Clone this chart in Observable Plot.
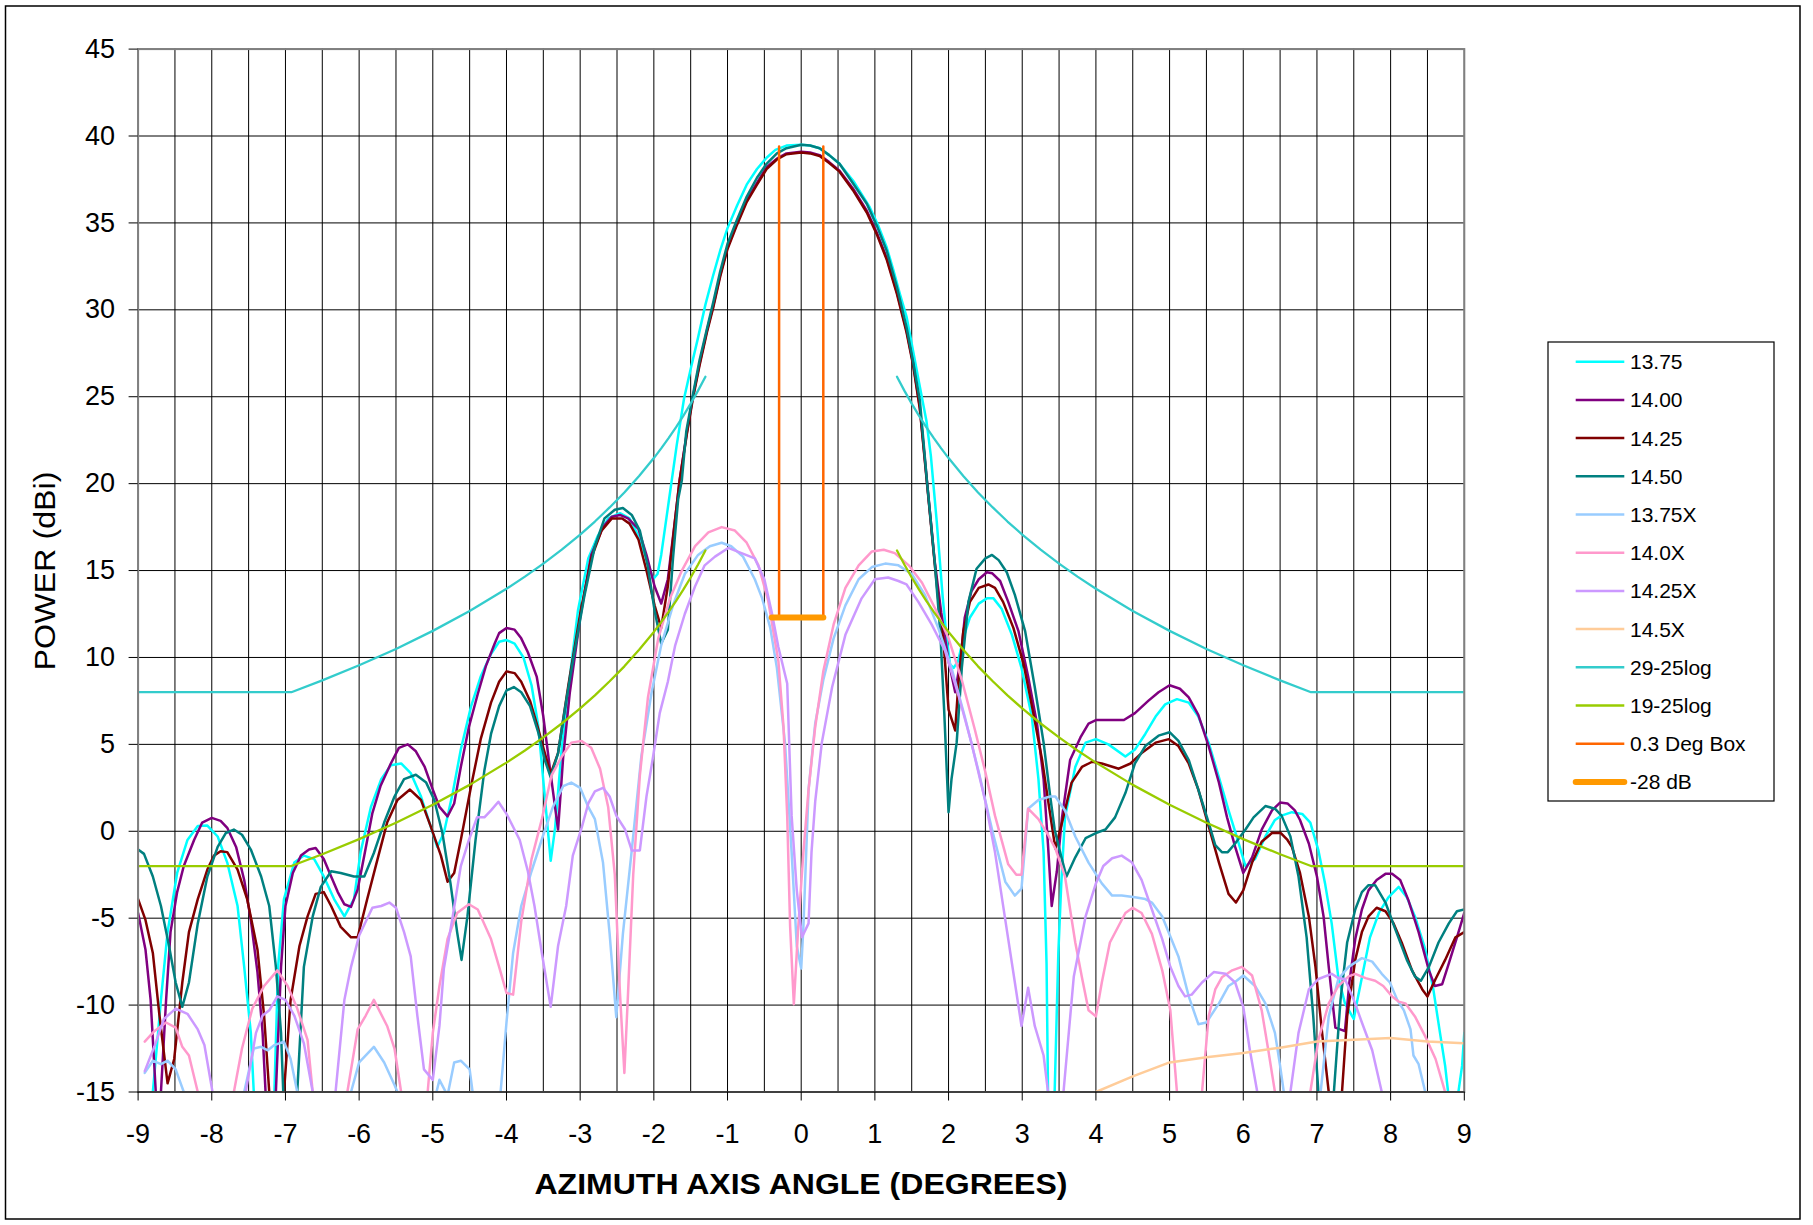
<!DOCTYPE html>
<html>
<head>
<meta charset="utf-8">
<script src="https://cdn.jsdelivr.net/npm/d3@7"></script>
<script src="https://cdn.jsdelivr.net/npm/@observablehq/plot@0.6"></script>
<style>
  html, body { margin: 0; padding: 0; background: #fff; }
  #chart { position: relative; width: 1813px; height: 1225px; }
</style>
</head>
<body>
<div id="chart"></div>
<script>
// ---------- data (angle in degrees, power in dBi) ----------
const s1375 = [[-9,-22],[-8.85,-16],[-8.8,-15],[-8.69,-9.7],[-8.6,-5.8],[-8.47,-2.4],[-8.33,-0.5],[-8.19,0.3],[-8.06,0.33],[-7.92,-0.3],[-7.79,-1.8],[-7.65,-4.3],[-7.56,-7.8],[-7.47,-11.6],[-7.43,-15],[-7.3,-22],[-7.15,-15],[-7.1,-7.8],[-7.02,-3.9],[-6.88,-1.8],[-6.75,-1.4],[-6.61,-1.6],[-6.48,-2.6],[-6.34,-3.9],[-6.2,-4.9],[-6.07,-3.9],[-5.98,-1.2],[-5.84,1.4],[-5.7,3.0],[-5.57,3.8],[-5.43,3.9],[-5.3,3.35],[-5.16,2.0],[-5.03,0.3],[-4.94,-0.9],[-4.85,-0.1],[-4.73,2.2],[-4.62,4.7],[-4.48,7.2],[-4.35,8.9],[-4.21,10.2],[-4.1,10.9],[-4.0,11.0],[-3.89,10.8],[-3.77,10.0],[-3.66,8.4],[-3.57,6.1],[-3.48,2.0],[-3.4,-1.7],[-3.34,0.2],[-3.25,4.8],[-3.16,8.2],[-3.03,12.7],[-2.89,15.7],[-2.76,17.0],[-2.62,18.0],[-2.46,18.3],[-2.33,18.0],[-2.21,17.0],[-2.1,15.7],[-2.01,14.5],[-1.95,14.8],[-1.9,15.9],[-1.8,18.9],[-1.69,22.2],[-1.59,24.9],[-1.5,26.6],[-1.4,28.4],[-1.3,30.3],[-1.2,31.9],[-1.1,33.4],[-1.0,34.7],[-0.87,36.0],[-0.74,37.2],[-0.6,38.1],[-0.47,38.75],[-0.35,39.2],[-0.2,39.45],[0,39.5],[0.12,39.45],[0.25,39.3],[0.38,38.9],[0.52,38.4],[0.71,37.4],[0.93,35.9],[1.05,34.8],[1.16,33.6],[1.25,32.3],[1.34,30.9],[1.43,29.6],[1.52,27.6],[1.6,25.8],[1.7,23.6],[1.76,21.6],[1.84,17.8],[1.92,13.5],[1.97,11.3],[2.02,9.6],[2.07,9.4],[2.13,9.8],[2.2,11.1],[2.29,12.3],[2.41,13.1],[2.52,13.4],[2.61,13.4],[2.72,12.8],[2.86,11.3],[2.99,9.4],[3.13,6.6],[3.22,3.0],[3.29,-1.2],[3.33,-7.6],[3.35,-15],[3.4,-22],[3.44,-15],[3.49,-7],[3.53,-3],[3.58,0.8],[3.72,3.7],[3.86,5.1],[4.0,5.3],[4.17,5.0],[4.4,4.3],[4.53,4.7],[4.67,5.6],[4.81,6.6],[4.94,7.3],[5.1,7.6],[5.26,7.4],[5.39,6.6],[5.53,5.1],[5.67,3.1],[5.8,1.2],[5.91,-0.3],[6.03,-2.0],[6.16,-1.6],[6.3,-0.3],[6.43,0.65],[6.52,0.9],[6.66,1.1],[6.8,1.0],[6.91,0.5],[7.02,-1.1],[7.11,-3.0],[7.2,-5.3],[7.29,-8.4],[7.38,-9.9],[7.5,-10.8],[7.54,-9.9],[7.63,-8.0],[7.72,-6.1],[7.84,-4.7],[7.97,-3.8],[8.11,-3.2],[8.22,-3.8],[8.33,-4.9],[8.47,-6.8],[8.58,-9.1],[8.67,-11.6],[8.74,-13.5],[8.78,-15],[8.85,-20],[8.92,-15],[8.97,-13.5],[9.0,-11.6]];

const s1400 = [[-9,-4.7],[-8.9,-6.8],[-8.83,-9.7],[-8.76,-15],[-8.72,-20],[-8.69,-15],[-8.62,-9.7],[-8.56,-5.8],[-8.47,-3.5],[-8.38,-2.0],[-8.24,-0.5],[-8.13,0.5],[-8.0,0.77],[-7.88,0.6],[-7.79,0.2],[-7.67,-0.9],[-7.56,-2.8],[-7.47,-5.1],[-7.38,-8.1],[-7.31,-11.6],[-7.27,-15],[-7.2,-20],[-7.13,-15],[-7.06,-7.8],[-7.0,-4.3],[-6.9,-2.4],[-6.79,-1.4],[-6.68,-1.05],[-6.59,-0.96],[-6.48,-1.6],[-6.38,-2.6],[-6.29,-3.5],[-6.2,-4.2],[-6.11,-4.35],[-6.02,-3.35],[-5.93,-1.4],[-5.82,1.05],[-5.71,2.6],[-5.57,3.9],[-5.46,4.8],[-5.34,5.0],[-5.23,4.6],[-5.11,3.7],[-5.0,2.4],[-4.91,1.4],[-4.8,0.86],[-4.71,1.6],[-4.62,3.7],[-4.51,6.0],[-4.39,7.9],[-4.28,9.5],[-4.16,10.8],[-4.1,11.4],[-4.0,11.7],[-3.89,11.6],[-3.8,11.1],[-3.71,10.3],[-3.59,8.9],[-3.5,6.6],[-3.41,3.6],[-3.3,0.1],[-3.23,4.3],[-3.14,8.0],[-3.0,12.3],[-2.85,15.9],[-2.69,17.5],[-2.57,18.1],[-2.46,18.2],[-2.35,18.0],[-2.21,17.4],[-2.1,15.9],[-1.99,14.1],[-1.9,13.1],[-1.81,14.5],[-1.71,18.0],[-1.65,20.2],[-1.55,23.0],[-1.47,25.0],[-1.38,26.9],[-1.28,28.8],[-1.19,30.3],[-1.1,32.0],[-1.0,33.6],[-0.87,35.0],[-0.74,36.3],[-0.6,37.3],[-0.47,38.2],[-0.33,38.7],[-0.2,39.0],[0,39.1],[0.12,39.05],[0.25,38.9],[0.38,38.5],[0.52,38.0],[0.7,37.0],[0.89,35.7],[1.03,34.4],[1.16,33.0],[1.3,31.0],[1.43,28.8],[1.52,26.9],[1.61,24.4],[1.71,20.0],[1.81,15.6],[1.9,12.6],[2.0,9.8],[2.09,8.0],[2.16,9.8],[2.22,12.3],[2.31,13.8],[2.41,14.5],[2.52,14.9],[2.59,14.85],[2.7,14.4],[2.81,13.2],[2.95,11.5],[3.08,8.9],[3.2,6.2],[3.29,3.0],[3.35,-0.8],[3.4,-4.3],[3.47,-2.3],[3.54,0.8],[3.65,4.1],[3.79,5.4],[3.9,6.2],[4.0,6.4],[4.17,6.4],[4.38,6.4],[4.53,6.8],[4.71,7.5],[4.85,8.0],[5.0,8.4],[5.14,8.2],[5.26,7.7],[5.39,6.7],[5.53,4.9],[5.67,2.8],[5.78,0.8],[5.89,-0.9],[6.0,-2.4],[6.12,-1.5],[6.25,0.1],[6.39,1.2],[6.5,1.65],[6.6,1.6],[6.7,1.2],[6.77,0.65],[6.89,-0.7],[7.0,-2.6],[7.09,-4.9],[7.16,-7.8],[7.25,-11.3],[7.38,-11.5],[7.44,-8.7],[7.52,-6.2],[7.61,-4.5],[7.7,-3.4],[7.81,-2.8],[7.93,-2.45],[8.02,-2.45],[8.13,-2.8],[8.24,-3.95],[8.38,-5.8],[8.52,-8.0],[8.6,-8.9],[8.7,-8.8],[8.79,-7.6],[8.9,-6.1],[9.0,-4.7]];

const s1425 = [[-9,-3.9],[-8.9,-5.1],[-8.8,-7.0],[-8.71,-10.6],[-8.6,-14.5],[-8.51,-13.1],[-8.4,-8.7],[-8.31,-5.8],[-8.19,-3.9],[-8.06,-2.2],[-7.97,-1.4],[-7.88,-1.15],[-7.79,-1.2],[-7.65,-2.2],[-7.52,-3.9],[-7.38,-6.8],[-7.29,-10.6],[-7.22,-15],[-7.12,-20],[-7.02,-15],[-6.93,-9.7],[-6.81,-6.6],[-6.7,-4.9],[-6.59,-3.6],[-6.48,-3.5],[-6.38,-4.3],[-6.25,-5.5],[-6.11,-6.1],[-6.02,-6.1],[-5.89,-3.9],[-5.75,-1.6],[-5.62,0.5],[-5.48,1.8],[-5.31,2.4],[-5.16,1.8],[-5.03,0.3],[-4.89,-1.4],[-4.8,-2.9],[-4.71,-2.4],[-4.62,-0.5],[-4.48,2.6],[-4.35,5.3],[-4.21,7.4],[-4.1,8.6],[-4.0,9.2],[-3.89,9.1],[-3.8,8.6],[-3.68,7.5],[-3.57,5.9],[-3.5,4.8],[-3.4,3.3],[-3.3,4.5],[-3.16,8.4],[-3.0,12.5],[-2.85,15.7],[-2.71,17.3],[-2.57,18.0],[-2.43,18.0],[-2.33,17.7],[-2.21,16.8],[-2.1,15.0],[-1.99,13.0],[-1.9,11.7],[-1.81,14.1],[-1.71,18.0],[-1.65,20.2],[-1.55,22.9],[-1.47,24.9],[-1.38,26.8],[-1.28,28.7],[-1.19,30.2],[-1.1,31.9],[-1.0,33.5],[-0.87,34.9],[-0.74,36.2],[-0.6,37.2],[-0.47,38.1],[-0.33,38.65],[-0.2,38.95],[0,39.05],[0.12,39.0],[0.25,38.85],[0.38,38.45],[0.52,37.95],[0.7,36.9],[0.89,35.6],[1.03,34.3],[1.16,32.9],[1.3,30.9],[1.43,28.7],[1.52,26.8],[1.61,24.3],[1.71,19.9],[1.81,15.5],[1.88,12.5],[1.93,11.0],[2.0,7.0],[2.09,5.8],[2.13,8.3],[2.2,11.5],[2.29,13.2],[2.41,14.0],[2.54,14.2],[2.63,14.0],[2.74,13.2],[2.88,11.7],[3.02,9.6],[3.15,6.8],[3.27,4.1],[3.35,1.8],[3.45,-1.0],[3.54,0.5],[3.67,2.8],[3.81,3.7],[3.95,4.0],[4.08,3.9],[4.31,3.6],[4.47,3.9],[4.62,4.5],[4.81,5.1],[4.99,5.3],[5.12,4.9],[5.26,3.9],[5.39,2.4],[5.53,0.3],[5.67,-1.8],[5.8,-3.6],[5.9,-4.1],[6.0,-3.4],[6.12,-1.8],[6.25,-0.6],[6.39,-0.1],[6.51,-0.1],[6.6,-0.5],[6.66,-0.9],[6.77,-2.4],[6.89,-4.9],[6.98,-7.8],[7.07,-11.6],[7.16,-15],[7.25,-20],[7.34,-15],[7.41,-10.65],[7.52,-7.4],[7.61,-5.8],[7.7,-4.9],[7.81,-4.4],[7.93,-4.6],[8.04,-5.3],[8.15,-6.4],[8.29,-8.0],[8.43,-9.1],[8.5,-9.5],[8.61,-8.5],[8.74,-7.4],[8.88,-6.1],[9.0,-5.8]];

const s1450 = [[-9,-1.05],[-8.92,-1.3],[-8.8,-2.6],[-8.69,-4.3],[-8.58,-6.6],[-8.49,-8.7],[-8.4,-10.1],[-8.31,-8.7],[-8.19,-5.3],[-8.06,-2.6],[-7.92,-0.9],[-7.81,-0.1],[-7.7,0.1],[-7.59,-0.2],[-7.47,-1.05],[-7.33,-2.6],[-7.22,-4.3],[-7.13,-7.8],[-7.06,-11.6],[-7.03,-15],[-6.94,-20],[-6.84,-15],[-6.75,-7.8],[-6.63,-4.9],[-6.52,-3.2],[-6.38,-2.3],[-6.25,-2.4],[-6.07,-2.6],[-5.93,-2.6],[-5.8,-1.25],[-5.66,0.5],[-5.52,2.0],[-5.39,3.0],[-5.23,3.25],[-5.09,2.8],[-4.98,1.8],[-4.87,-0.1],[-4.76,-3.0],[-4.67,-5.8],[-4.61,-7.4],[-4.53,-4.9],[-4.42,-0.5],[-4.3,3.5],[-4.21,5.6],[-4.1,7.2],[-4.0,8.1],[-3.9,8.3],[-3.8,8.0],[-3.68,7.2],[-3.57,5.7],[-3.48,4.1],[-3.4,3.1],[-3.3,4.5],[-3.19,7.5],[-3.07,10.5],[-2.94,13.6],[-2.8,16.4],[-2.67,18.0],[-2.53,18.5],[-2.42,18.6],[-2.3,18.2],[-2.19,17.3],[-2.08,15.2],[-1.99,12.7],[-1.9,10.8],[-1.81,11.6],[-1.74,15.7],[-1.67,19.1],[-1.62,20.2],[-1.56,23.0],[-1.47,25.1],[-1.38,27.1],[-1.28,28.9],[-1.19,30.5],[-1.1,32.2],[-1.0,33.8],[-0.87,35.2],[-0.74,36.5],[-0.6,37.6],[-0.47,38.4],[-0.33,39.0],[-0.2,39.3],[0,39.5],[0.12,39.45],[0.25,39.3],[0.38,38.9],[0.52,38.4],[0.7,37.3],[0.89,36.1],[1.03,34.8],[1.16,33.4],[1.3,31.3],[1.43,29.0],[1.52,27.0],[1.61,24.8],[1.71,20.0],[1.81,15.6],[1.89,11.3],[1.94,7.0],[2.0,1.1],[2.04,3.0],[2.11,5.1],[2.18,9.4],[2.27,13.2],[2.38,15.1],[2.5,15.7],[2.59,15.9],[2.68,15.6],[2.79,14.9],[2.9,13.6],[3.04,11.5],[3.17,8.3],[3.29,5.1],[3.38,2.0],[3.44,0.1],[3.52,-1.3],[3.6,-2.6],[3.72,-1.5],[3.86,-0.4],[4.0,-0.1],[4.13,0.1],[4.26,0.8],[4.4,2.2],[4.53,3.9],[4.67,4.9],[4.85,5.5],[5.0,5.7],[5.12,5.2],[5.26,4.1],[5.39,2.4],[5.53,0.5],[5.62,-0.8],[5.71,-1.2],[5.79,-1.2],[5.89,-0.7],[6.03,0.1],[6.14,0.8],[6.3,1.45],[6.43,1.3],[6.52,0.9],[6.64,-0.3],[6.75,-2.6],[6.86,-6.1],[6.95,-10.65],[7.02,-15],[7.12,-20],[7.23,-15],[7.32,-9.7],[7.41,-6.4],[7.52,-4.5],[7.61,-3.5],[7.7,-3.1],[7.79,-3.1],[7.93,-4.1],[8.06,-5.6],[8.22,-7.4],[8.33,-8.35],[8.41,-8.6],[8.52,-7.8],[8.65,-6.4],[8.79,-5.3],[8.9,-4.6],[9.0,-4.5]];

const s1375X = [[-8.91,-13.9],[-8.8,-13.2],[-8.69,-13.4],[-8.6,-13.2],[-8.49,-13.7],[-8.38,-15],[-8.2,-20],[-7.7,-20],[-7.56,-15],[-7.43,-12.5],[-7.33,-12.4],[-7.24,-12.6],[-7.15,-12.3],[-7.02,-12.1],[-6.93,-13.1],[-6.84,-15],[-6.5,-20],[-6.11,-15],[-6.0,-13.3],[-5.8,-12.4],[-5.66,-13.3],[-5.52,-14.6],[-5.48,-15],[-5.2,-20],[-4.95,-15],[-4.91,-14.3],[-4.8,-15.2],[-4.71,-13.3],[-4.62,-13.2],[-4.5,-13.7],[-4.46,-15],[-4.3,-20],[-4.08,-15],[-4.0,-11],[-3.91,-7.0],[-3.8,-4.3],[-3.66,-2.3],[-3.5,-0.2],[-3.37,1.4],[-3.23,2.6],[-3.12,2.8],[-3.0,2.5],[-2.89,1.4],[-2.8,0.7],[-2.69,-1.8],[-2.6,-5.9],[-2.51,-10.7],[-2.42,-5.9],[-2.3,-1.1],[-2.17,4.3],[-2.03,8.0],[-1.9,10.7],[-1.74,13.0],[-1.58,14.8],[-1.4,15.9],[-1.24,16.4],[-1.08,16.6],[-0.95,16.4],[-0.79,15.8],[-0.63,14.5],[-0.53,13.4],[-0.42,11.7],[-0.33,9.4],[-0.22,5.1],[-0.13,-1.2],[-0.06,-6.6],[0,-7.9],[0.03,-5.5],[0.1,2.4],[0.19,6.2],[0.3,8.7],[0.44,11.1],[0.6,13.0],[0.78,14.5],[0.96,15.2],[1.14,15.4],[1.32,15.3],[1.5,14.8],[1.68,13.6],[1.86,11.7],[2.04,9.4],[2.22,6.6],[2.41,3.4],[2.59,0.1],[2.77,-2.9],[2.9,-3.7],[2.99,-3.3],[3.08,1.3],[3.22,1.8],[3.38,2.0],[3.45,2.0],[3.58,1.2],[3.72,-0.3],[3.9,-1.8],[4.08,-3.0],[4.22,-3.7],[4.35,-3.7],[4.53,-3.8],[4.67,-3.9],[4.76,-4.1],[4.9,-4.9],[5.01,-6.05],[5.12,-7.2],[5.26,-9.5],[5.39,-11.1],[5.5,-11.0],[5.67,-9.9],[5.8,-8.9],[5.91,-8.6],[6.0,-8.3],[6.16,-8.9],[6.3,-9.9],[6.43,-11.6],[6.5,-13.5],[6.55,-15],[6.8,-20],[7.05,-15],[7.16,-10.65],[7.29,-8.5],[7.43,-7.8],[7.61,-7.3],[7.75,-7.5],[7.88,-8.2],[7.99,-8.7],[8.09,-9.7],[8.18,-10.3],[8.27,-11.4],[8.31,-12.9],[8.38,-13.4],[8.47,-15],[8.7,-20],[9,-20]];

const s1400X = [[-8.91,-12.1],[-8.78,-11.5],[-8.62,-11.0],[-8.49,-11.3],[-8.4,-12.4],[-8.31,-12.9],[-8.19,-15],[-8.0,-20],[-7.85,-20],[-7.7,-15],[-7.59,-12.5],[-7.45,-10.2],[-7.29,-8.9],[-7.11,-8.0],[-6.97,-8.9],[-6.84,-10.2],[-6.7,-12.0],[-6.63,-15],[-6.4,-20],[-6.16,-15],[-6.02,-11.4],[-5.91,-10.6],[-5.8,-9.7],[-5.62,-11.2],[-5.52,-12.5],[-5.43,-15],[-5.25,-20],[-5.07,-15],[-5.0,-11.6],[-4.91,-8.9],[-4.8,-6.2],[-4.67,-4.7],[-4.51,-4.2],[-4.39,-4.5],[-4.21,-6.2],[-4.1,-7.8],[-4.0,-9.3],[-3.91,-9.4],[-3.8,-5.2],[-3.66,-1.6],[-3.52,0.7],[-3.39,3.2],[-3.25,4.3],[-3.12,5.1],[-2.98,5.2],[-2.85,4.8],[-2.73,3.6],[-2.62,1.4],[-2.53,-2.5],[-2.46,-9.3],[-2.4,-13.9],[-2.35,-9.3],[-2.28,-2.5],[-2.19,3.2],[-2.08,7.7],[-1.94,11.1],[-1.78,13.4],[-1.62,15.0],[-1.44,16.4],[-1.26,17.2],[-1.08,17.5],[-0.9,17.3],[-0.74,16.6],[-0.58,15.3],[-0.45,13.3],[-0.31,9.8],[-0.24,6.0],[-0.19,0.9],[-0.15,-5.5],[-0.1,-9.95],[-0.04,-5.5],[0.03,-1.2],[0.1,2.4],[0.19,6.0],[0.3,9.2],[0.44,11.9],[0.6,14.0],[0.78,15.3],[0.96,16.1],[1.12,16.2],[1.27,16.0],[1.46,15.3],[1.64,14.3],[1.82,12.8],[2.0,11.1],[2.18,8.7],[2.36,5.8],[2.5,3.4],[2.63,0.9],[2.81,-1.9],[2.92,-2.5],[2.99,-2.5],[3.08,1.3],[3.22,0.7],[3.35,-0.2],[3.45,-1.0],[3.58,-2.6],[3.72,-6.4],[3.81,-8.4],[3.9,-10.3],[4.0,-10.65],[4.08,-8.7],[4.19,-6.4],[4.4,-4.7],[4.5,-4.4],[4.62,-4.7],[4.76,-5.9],[4.9,-8.0],[5.01,-10.3],[5.1,-15],[5.27,-20],[5.44,-15],[5.53,-10.65],[5.62,-9.1],[5.71,-8.4],[5.85,-8.0],[5.98,-7.8],[6.12,-8.3],[6.25,-10.3],[6.34,-12.6],[6.43,-15],[6.65,-20],[6.91,-15],[7.02,-12.0],[7.16,-9.9],[7.29,-8.9],[7.43,-8.35],[7.52,-8.2],[7.66,-8.45],[7.79,-8.6],[7.9,-8.9],[8.02,-9.5],[8.11,-9.8],[8.2,-9.9],[8.33,-10.65],[8.47,-11.8],[8.61,-13.1],[8.74,-15],[8.9,-20],[9,-20]];

const s1425X = [[-8.91,-13.8],[-8.78,-12.4],[-8.65,-10.8],[-8.49,-10.2],[-8.33,-10.5],[-8.19,-11.4],[-8.1,-12.3],[-7.99,-15],[-7.8,-20],[-7.7,-20],[-7.54,-15],[-7.4,-11.6],[-7.31,-10.6],[-7.22,-10.3],[-7.11,-9.5],[-7.0,-9.7],[-6.88,-10.6],[-6.75,-12.2],[-6.63,-15],[-6.5,-20],[-6.32,-15],[-6.2,-9.7],[-6.11,-7.8],[-6.0,-6.0],[-5.82,-4.4],[-5.7,-4.3],[-5.59,-4.1],[-5.5,-4.4],[-5.39,-5.8],[-5.3,-7.2],[-5.21,-10.6],[-5.12,-13.7],[-5.0,-14.3],[-4.91,-11.2],[-4.85,-7.9],[-4.73,-4.9],[-4.62,-2.0],[-4.51,-0.5],[-4.4,0.8],[-4.3,0.8],[-4.21,1.2],[-4.11,1.7],[-4.0,1.0],[-3.82,-0.5],[-3.71,-2.3],[-3.62,-4.3],[-3.52,-7.0],[-3.4,-10.1],[-3.3,-6.6],[-3.19,-4.3],[-3.1,-1.4],[-2.98,0.2],[-2.89,1.6],[-2.8,2.3],[-2.69,2.5],[-2.6,2.0],[-2.51,0.9],[-2.39,0.1],[-2.3,-1.1],[-2.19,-1.1],[-2.1,2.0],[-2.01,4.3],[-1.92,6.8],[-1.81,8.6],[-1.71,10.7],[-1.58,12.5],[-1.44,14.1],[-1.31,15.3],[-1.17,15.8],[-0.99,16.3],[-0.81,16.0],[-0.63,15.7],[-0.5,14.5],[-0.4,12.6],[-0.31,10.6],[-0.19,8.5],[-0.13,0.9],[-0.06,-3.4],[0.01,-6.1],[0.1,-5.3],[0.14,-1.2],[0.19,1.7],[0.28,5.1],[0.42,8.3],[0.6,11.3],[0.82,13.4],[1.0,14.5],[1.18,14.6],[1.32,14.4],[1.43,14.2],[1.59,13.2],[1.77,11.9],[1.95,10.4],[2.13,7.9],[2.31,5.1],[2.5,1.7],[2.63,-1.2],[2.77,-5.1],[2.9,-8.7],[2.99,-11.2],[3.08,-9.0],[3.17,-11.2],[3.29,-12.9],[3.35,-15],[3.45,-20],[3.56,-15],[3.7,-8.35],[3.86,-4.9],[4.0,-3.0],[4.1,-2.0],[4.22,-1.55],[4.35,-1.4],[4.49,-1.8],[4.62,-2.8],[4.76,-4.5],[4.9,-6.2],[5.01,-7.8],[5.12,-8.9],[5.21,-9.5],[5.3,-9.4],[5.44,-8.7],[5.6,-8.1],[5.76,-8.2],[5.89,-8.7],[6.0,-10.1],[6.09,-12.6],[6.19,-15],[6.4,-20],[6.64,-15],[6.75,-11.6],[6.89,-9.1],[7.02,-8.5],[7.2,-8.2],[7.29,-8.45],[7.38,-8.5],[7.5,-9.7],[7.61,-11.0],[7.75,-12.6],[7.88,-15],[8.1,-20],[9,-20]];

const s1450X = [[3.9,-16],[4.0,-15],[4.5,-14.1],[5.0,-13.3],[5.5,-13.0],[6.0,-12.75],[6.5,-12.45],[7.0,-12.1],[7.5,-12.0],[8.0,-11.9],[8.5,-12.1],[9.0,-12.2]];

// mask envelopes (off-axis angle, dB), mirrored on both sides of boresight
const maskAngles = [1.3,1.4,1.5,1.6,1.7,1.8,1.9,2.0,2.2,2.4,2.6,2.8,3.0,3.25,3.5,3.75,4.0,4.5,5.0,5.5,6.0,6.5,6.92,7.0,9.0];
const mask29 = [26.15,25.35,24.60,23.90,23.24,22.62,22.03,21.47,20.44,19.49,18.63,17.82,17.07,16.20,15.40,14.65,13.95,12.67,11.53,10.49,9.55,8.68,8.00,8.00,8.00];
const mask19 = [16.15,15.35,14.60,13.90,13.24,12.62,12.03,11.47,10.44,9.49,8.63,7.82,7.07,6.20,5.40,4.65,3.95,2.67,1.53,0.49,-0.45,-1.32,-2.00,-2.00,-2.00];

// 0.3 degree box and -28 dB line
const boxAngles = [-0.3,-0.3,0.3,0.3];
const boxValues = [39.4,12.3,12.3,39.4];
const db28Angles = [-0.4,0.3];
const db28Values = [12.3,12.3];

const xTicks = [-9,-8,-7,-6,-5,-4,-3,-2,-1,0,1,2,3,4,5,6,7,8,9];
const yTicks = [-15,-10,-5,0,5,10,15,20,25,30,35,40,45];

const names = ["13.75","14.00","14.25","14.50","13.75X","14.0X","14.25X","14.5X","29-25log","19-25log","0.3 Deg Box","-28 dB"];
const colors = ["#00FFFF","#800080","#800000","#008080","#99CCFF","#FF99CC","#CC99FF","#FFCC99","#33CCCC","#99CC00","#FF6600","#FF9900"];

// ---------- build ----------
const measured = [s1375, s1400, s1425, s1450, s1375X, s1400X, s1425X, s1450X];
const toRows = arr => arr.map(([a, v]) => ({a, v}));
const maskRows = vals => [-1, 1].flatMap(side =>
  maskAngles.map((a, i) => ({a: side * a, v: vals[i], side})));
const boxRows = boxAngles.map((a, i) => ({a, v: boxValues[i]}));
const dbRows = db28Angles.map((a, i) => ({a, v: db28Values[i]}));

const W = 1813, H = 1225;
const mL = 137.6, mR = W - 1463.8, mT = 48.6, mB = H - 1091.5;
const fmt = d => String(d);

const gridX = d3.range(-9, 9.001, 0.5);

const chart = Plot.plot({
  width: W, height: H,
  marginLeft: mL, marginRight: mR, marginTop: mT, marginBottom: mB,
  style: {fontFamily: "Arial, 'Liberation Sans', sans-serif", fontSize: "27px", color: "#000", background: "#fff", overflow: "visible"},
  x: {domain: [-9, 9]},
  y: {domain: [-15, 45]},
  marks: [
    Plot.ruleX(gridX, {stroke: "#000", strokeWidth: 1}),
    Plot.ruleY(yTicks, {stroke: "#000", strokeWidth: 1}),
    ...measured.map((s, i) => Plot.line(toRows(s), {x: "a", y: "v", stroke: colors[i], strokeWidth: 2.5, clip: true})),
    Plot.line(maskRows(mask29), {x: "a", y: "v", z: "side", stroke: colors[8], strokeWidth: 2.3, clip: true}),
    Plot.line(maskRows(mask19), {x: "a", y: "v", z: "side", stroke: colors[9], strokeWidth: 2.3, clip: true}),
    Plot.line(boxRows, {x: "a", y: "v", stroke: colors[10], strokeWidth: 2.5, clip: true}),
    Plot.line(dbRows, {x: "a", y: "v", stroke: colors[11], strokeWidth: 6, strokeLinecap: "round", clip: true}),
    Plot.frame({stroke: "#808080", strokeWidth: 2}),
    Plot.ruleY([-15], {stroke: "#404040", strokeWidth: 2}),
    Plot.axisX({ticks: xTicks, tickFormat: fmt, tickSize: 9, tickPadding: 23, fontSize: 27, label: null, stroke: "#000"}),
    Plot.axisY({ticks: yTicks, tickFormat: fmt, tickSize: 9, tickPadding: 14, fontSize: 27, label: null, stroke: "#000"})
  ]
});

document.getElementById("chart").appendChild(chart);

const svg = d3.select(chart);
// outer chart border
svg.append("rect").attr("x", 5.5).attr("y", 6).attr("width", 1794.5).attr("height", 1213)
  .attr("fill", "none").attr("stroke", "#000").attr("stroke-width", 1.5);

// axis titles
svg.append("text").attr("x", 801).attr("y", 1194)
  .attr("text-anchor", "middle").attr("font-weight", "bold").attr("font-size", 29)
  .attr("textLength", 533).attr("lengthAdjust", "spacingAndGlyphs")
  .text("AZIMUTH AXIS ANGLE (DEGREES)");
svg.append("text").attr("transform", "translate(55,571) rotate(-90)")
  .attr("text-anchor", "middle").attr("font-size", 29)
  .attr("textLength", 199).attr("lengthAdjust", "spacingAndGlyphs")
  .text("POWER (dBi)");

// legend
const lg = svg.append("g").attr("text-anchor", "start");
lg.append("rect").attr("x", 1548).attr("y", 342).attr("width", 226).attr("height", 459)
  .attr("fill", "#fff").attr("stroke", "#000").attr("stroke-width", 1.2);
names.forEach((name, i) => {
  const y = 361.7 + i * 38.2;
  const last = i === names.length - 1;
  lg.append("line").attr("x1", 1575.7).attr("x2", 1624.3).attr("y1", y).attr("y2", y)
    .attr("stroke", colors[i]).attr("stroke-width", last ? 6 : 2.5)
    .attr("stroke-linecap", last ? "round" : "butt");
  lg.append("text").attr("x", 1630).attr("y", y).attr("dy", "0.36em")
    .attr("text-anchor", "start").attr("font-size", 21).text(name);
});
</script>
</body>
</html>
